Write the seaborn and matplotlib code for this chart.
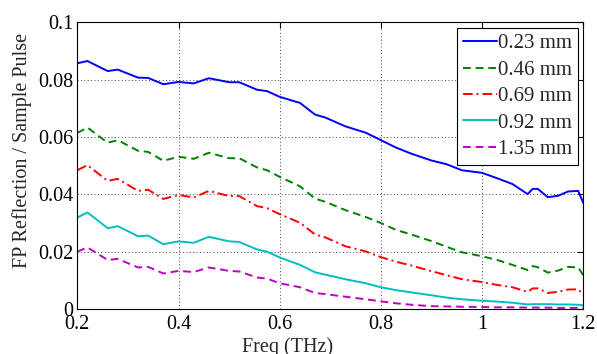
import pandas as pd
import matplotlib
matplotlib.use("Agg")
import matplotlib.pyplot as plt
import seaborn as sns

# === Data ===
freq = [0.20, 0.22, 0.26, 0.28, 0.32, 0.34, 0.37, 0.40, 0.43, 0.46, 0.50, 0.52,
        0.555, 0.575, 0.60, 0.64, 0.67, 0.69, 0.73, 0.77, 0.80, 0.83, 0.86, 0.90,
        0.93, 0.96, 1.00, 1.03, 1.06, 1.09, 1.10, 1.11, 1.13, 1.15, 1.17, 1.19, 1.20]

r_023 = [0.0857, 0.0865, 0.0830, 0.0835, 0.0807, 0.0806, 0.0784, 0.0792, 0.0787,
         0.0805, 0.0791, 0.0791, 0.0765, 0.0760, 0.0740, 0.0719, 0.0678, 0.0668,
         0.0637, 0.0615, 0.0589, 0.0563, 0.0542, 0.0518, 0.0505, 0.0484, 0.0475,
         0.0456, 0.0436, 0.0401, 0.0419, 0.0419, 0.0390, 0.0395, 0.0410, 0.0412, 0.0370]
r_046 = [0.0614, 0.0633, 0.0580, 0.0589, 0.0552, 0.0548, 0.0517, 0.0531, 0.0524,
         0.0545, 0.0526, 0.0526, 0.0494, 0.0484, 0.0461, 0.0428, 0.0385, 0.0374,
         0.0345, 0.0321, 0.0300, 0.0276, 0.0260, 0.0237, 0.0217, 0.0198, 0.0184,
         0.0171, 0.0154, 0.0136, 0.0150, 0.0146, 0.0127, 0.0134, 0.0147, 0.0145, 0.0118]
r_069 = [0.0484, 0.0502, 0.0447, 0.0454, 0.0412, 0.0416, 0.0384, 0.0398, 0.0389,
         0.0412, 0.0394, 0.0394, 0.0359, 0.0352, 0.0331, 0.0301, 0.0260, 0.0250,
         0.0219, 0.0201, 0.0181, 0.0165, 0.0152, 0.0132, 0.0118, 0.0104, 0.0094,
         0.0084, 0.0076, 0.0060, 0.0072, 0.0072, 0.0056, 0.0060, 0.0068, 0.0069, 0.0049]
r_092 = [0.0319, 0.0337, 0.0282, 0.0289, 0.0254, 0.0256, 0.0226, 0.0236, 0.0231,
         0.0252, 0.0236, 0.0234, 0.0208, 0.0200, 0.0180, 0.0154, 0.0128, 0.0120,
         0.0104, 0.0090, 0.0076, 0.0066, 0.0058, 0.0048, 0.0040, 0.0034, 0.0029,
         0.0026, 0.0022, 0.0016, 0.0017, 0.0017, 0.0017, 0.0016, 0.0016, 0.0015, 0.0013]
r_135 = [0.0200, 0.0215, 0.0171, 0.0175, 0.0145, 0.0147, 0.0124, 0.0133, 0.0129,
         0.0145, 0.0133, 0.0131, 0.0110, 0.0106, 0.0090, 0.0076, 0.0056, 0.0052,
         0.0043, 0.0034, 0.0027, 0.0020, 0.0015, 0.0010, 0.0009, 0.0008, 0.0007,
         0.0006, 0.0006, 0.0005, 0.0005, 0.0005, 0.0005, 0.0004, 0.0004, 0.0004, 0.0004]

labels = ["0.23 mm", "0.46 mm", "0.69 mm", "0.92 mm", "1.35 mm"]
series = [r_023, r_046, r_069, r_092, r_135]
colors = ["#0000ff", "#008000", "#ff0000", "#00bfbf", "#bf00bf"]
styles = ["-", (0, (4, 2.5)), (0, (5, 2, 1, 2)), "-", (0, (4, 2.5))]

# === Style ===
sns.set_style("white")
plt.rcParams["font.family"] = ["Liberation Serif", "DejaVu Serif"]

fig = plt.figure(figsize=(5.97, 3.54), dpi=100)
ax = fig.add_axes([0.1295, 0.127, 0.8475, 0.81])

for lab, vals, c, ls in zip(labels, series, colors, styles):
    sns.lineplot(x=freq, y=vals, ax=ax, color=c, linestyle=ls, linewidth=1.4, label=lab)

ax.set_xlim(0.2, 1.2)
ax.set_ylim(0, 0.1)
ax.set_xticks([0.2, 0.4, 0.6, 0.8, 1.0, 1.2])
ax.set_xticklabels(["0.2", "0.4", "0.6", "0.8", "1", "1.2"])
ax.set_yticks([0, 0.02, 0.04, 0.06, 0.08, 0.1])
ax.set_yticklabels(["0", "0.02", "0.04", "0.06", "0.08", "0.1"])
ax.tick_params(direction="in", top=True, right=True, length=4, width=0.8,
               labelsize=14.5, colors="black")
ax.tick_params(axis="x", pad=4)
ax.tick_params(axis="y", pad=3)
ax.grid(True, linestyle=(0, (1, 2.5)), color="#444444", linewidth=0.7)
for s in ax.spines.values():
    s.set_color("black")
    s.set_linewidth(0.8)

ax.set_xlabel("Freq (THz)", fontsize=14.5, va="top")
ax.xaxis.set_label_coords(0.416, -0.098)
ax.set_ylabel("FP Reflection / Sample Pulse", fontsize=14.5, va="center")
ax.yaxis.set_label_coords(-0.11, 0.554)

leg = ax.legend(loc="upper right", fontsize=15, frameon=True, fancybox=False,
                edgecolor="black", framealpha=1, handlelength=1.6,
                handletextpad=0.05, labelspacing=0.33, borderpad=0.3,
                borderaxespad=0.25)
leg.get_frame().set_linewidth(0.8)

plt.savefig("out.png", dpi=100)
